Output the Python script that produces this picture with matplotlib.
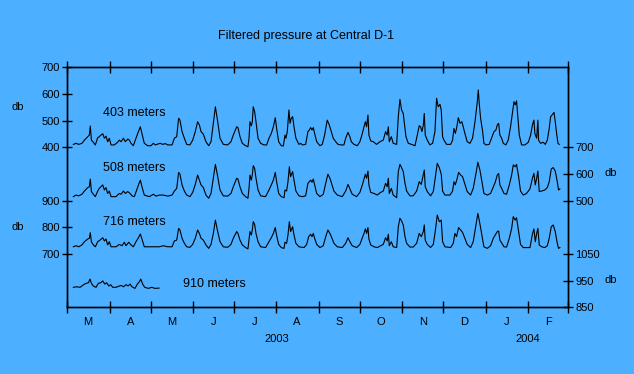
import numpy as np
import pandas as pd
import matplotlib
matplotlib.use('Agg')
import matplotlib.pyplot as plt
import matplotlib.dates as mdates
import matplotlib.transforms as mtransforms

plt.rcParams['font.family'] = ['Liberation Sans', 'DejaVu Sans']

# (days after 1 Mar 2003, pressure in db)
s403 = [(4.4, 411), (6.4, 415), (8.3, 411), (10.7, 415), (12.5, 427), (14.9, 440), (16.1, 446), (16.8, 480),
        (17.6, 427), (19.0, 419), (20.5, 409), (22.2, 436), (23.4, 440), (24.6, 446), (25.9, 451), (27.1, 434),
        (28.3, 442), (29.5, 421), (30.7, 434), (32.0, 409), (34.4, 409), (36.8, 419), (38.0, 427), (39.3, 421),
        (41.0, 434), (42.4, 421), (44.2, 431), (45.4, 427), (46.6, 415), (48.3, 406), (50.2, 434), (52.0, 459),
        (53.4, 477), (54.6, 452), (56.3, 415), (58.8, 406), (61.2, 406), (62.9, 415), (64.4, 409), (66.0, 412),
        (68.0, 415), (69.7, 411), (71.7, 414), (73.4, 409), (76.6, 409), (78.3, 434), (80.0, 440), (81.4, 509),
        (82.4, 502), (83.9, 459), (85.6, 434), (87.3, 411), (89.7, 409), (91.7, 427), (93.6, 459), (95.3, 496),
        (96.6, 484), (97.8, 459), (99.5, 449), (101.4, 421), (103.4, 406), (105.1, 421), (106.8, 490), (108.3, 552),
        (110.0, 496), (111.7, 434), (114.1, 411), (117.3, 409), (119.7, 421), (121.4, 446), (123.9, 477), (124.8, 474),
        (126.3, 440), (128.0, 415), (130.4, 406), (132.1, 402), (132.9, 434), (133.6, 496), (134.6, 481), (135.3, 496),
        (136.0, 552), (137.0, 534), (138.0, 496), (139.5, 434), (141.4, 415), (143.8, 409), (145.8, 409), (147.5, 434),
        (149.2, 452), (150.7, 477), (152.1, 511), (153.1, 471), (154.6, 421), (156.5, 406), (158.0, 405), (159.2, 446),
        (159.9, 434), (160.9, 459), (162.1, 540), (162.9, 490), (163.8, 509), (164.8, 515), (165.8, 477), (167.2, 434),
        (169.4, 411), (170.7, 415), (171.9, 409), (174.3, 411), (176.0, 459), (177.0, 465), (178.0, 474), (179.0, 465),
        (179.9, 474), (180.9, 452), (182.4, 421), (184.8, 406), (186.5, 411), (188.2, 446), (190.1, 502), (191.6, 484),
        (193.1, 459), (194.5, 434), (196.3, 421), (198.0, 411), (200.4, 409), (202.3, 409), (203.6, 434), (205.3, 456),
        (206.7, 440), (207.7, 421), (209.7, 411), (212.1, 406), (214.0, 421), (215.8, 452), (217.0, 477), (218.0, 496),
        (218.9, 477), (219.9, 521), (220.6, 446), (221.9, 424), (223.8, 421), (226.2, 411), (228.7, 421), (231.1, 427),
        (232.8, 459), (234.0, 446), (234.8, 477), (235.5, 421), (237.0, 440), (238.4, 415), (240.9, 411), (242.1, 515),
        (243.3, 580), (244.5, 540), (245.7, 527), (247.0, 471), (247.7, 440), (249.4, 415), (251.8, 411), (254.3, 406),
        (256.0, 446), (257.4, 481), (258.4, 477), (259.4, 459), (260.4, 484), (261.1, 527), (261.8, 446), (263.3, 427),
        (265.2, 409), (267.2, 415), (268.9, 459), (270.1, 584), (271.3, 552), (272.6, 561), (273.5, 540), (274.5, 440),
        (275.5, 427), (277.4, 411), (280.4, 411), (281.8, 427), (282.8, 471), (283.8, 452), (284.7, 471), (286.0, 511),
        (287.2, 490), (288.6, 496), (289.6, 477), (290.8, 452), (292.5, 421), (294.5, 415), (296.4, 434), (298.2, 496),
        (299.9, 571), (300.6, 615), (301.3, 565), (302.3, 509), (303.8, 459), (304.7, 415), (306.2, 409), (308.6, 411),
        (310.3, 434), (312.1, 459), (313.5, 465), (314.5, 484), (315.5, 490), (316.4, 446), (317.7, 434), (318.9, 415),
        (320.8, 409), (322.5, 427), (324.2, 477), (325.7, 534), (326.7, 571), (327.6, 559), (328.6, 574), (329.6, 509),
        (330.6, 446), (332.3, 409), (334.7, 409), (337.2, 419), (338.9, 446), (340.3, 486), (341.3, 502), (342.0, 452),
        (343.3, 434), (344.2, 502), (344.7, 427), (346.2, 415), (348.1, 419), (349.6, 411), (351.1, 427), (352.5, 471),
        (353.5, 515), (355.0, 524), (356.0, 531), (356.9, 496), (357.9, 452), (358.9, 415), (359.8, 411)]

s508 = [(4.4, 515), (6.4, 521), (8.3, 518), (10.7, 524), (12.5, 536), (14.9, 549), (16.1, 552), (16.8, 581),
        (17.6, 534), (19.0, 524), (20.5, 515), (22.2, 536), (23.4, 546), (24.6, 552), (25.9, 559), (27.1, 540),
        (28.3, 549), (29.5, 527), (30.7, 536), (32.0, 515), (35.6, 515), (38.0, 527), (39.3, 524), (41.0, 536),
        (42.4, 527), (44.2, 534), (45.9, 527), (47.3, 518), (49.0, 515), (50.7, 540), (52.2, 561), (53.4, 577),
        (54.6, 552), (56.3, 521), (60.0, 515), (62.9, 524), (64.9, 517), (67.3, 521), (70.2, 521), (73.4, 517),
        (76.6, 521), (78.3, 536), (80.0, 546), (81.4, 606), (82.4, 599), (83.9, 559), (85.6, 536), (87.3, 521),
        (89.7, 515), (91.7, 531), (93.6, 561), (95.3, 596), (96.6, 577), (97.8, 559), (99.5, 549), (101.4, 521),
        (103.4, 509), (105.1, 527), (106.8, 584), (108.3, 636), (110.0, 590), (111.7, 540), (114.1, 518), (117.3, 517),
        (119.7, 527), (121.4, 552), (123.9, 584), (124.8, 581), (126.3, 552), (128.0, 527), (130.4, 515), (132.1, 509),
        (132.9, 546), (133.6, 596), (134.6, 577), (135.3, 596), (136.0, 631), (137.0, 621), (138.0, 584), (139.5, 540),
        (141.4, 518), (145.0, 515), (147.5, 540), (149.2, 559), (150.7, 577), (152.1, 606), (153.1, 571), (154.6, 527),
        (156.5, 515), (158.5, 511), (159.2, 540), (160.4, 536), (161.4, 571), (162.4, 627), (163.3, 590), (164.8, 609),
        (165.8, 577), (167.2, 536), (169.4, 518), (171.9, 515), (174.3, 518), (176.0, 565), (178.0, 577), (179.0, 569),
        (179.9, 581), (180.9, 559), (182.4, 527), (184.8, 515), (187.2, 524), (189.0, 565), (190.6, 599), (192.1, 584),
        (193.6, 559), (195.0, 536), (197.5, 521), (201.1, 515), (203.6, 536), (205.3, 561), (206.7, 544), (208.4, 524),
        (211.6, 515), (214.0, 531), (215.8, 559), (217.0, 581), (218.0, 599), (218.9, 584), (219.9, 611), (220.6, 559),
        (221.9, 531), (224.3, 527), (226.7, 521), (229.2, 531), (231.1, 536), (232.8, 565), (234.0, 552), (234.8, 584),
        (235.5, 527), (237.0, 546), (238.4, 521), (240.9, 511), (242.1, 609), (243.3, 636), (244.5, 624), (245.7, 609),
        (247.0, 565), (248.2, 536), (250.6, 518), (253.0, 518), (255.5, 536), (257.4, 571), (258.9, 561), (259.9, 586),
        (261.1, 615), (261.8, 552), (263.3, 534), (265.7, 518), (267.7, 534), (269.1, 584), (270.6, 640), (272.1, 624),
        (273.5, 599), (274.5, 536), (276.2, 521), (279.9, 521), (281.8, 536), (282.8, 571), (283.8, 559), (285.2, 584),
        (286.2, 606), (287.7, 596), (289.1, 590), (290.6, 565), (292.5, 534), (295.0, 521), (296.9, 546), (298.9, 602),
        (300.3, 644), (301.8, 615), (303.3, 571), (304.7, 527), (307.2, 521), (309.6, 527), (311.6, 552), (313.0, 569),
        (314.5, 596), (315.5, 602), (316.4, 559), (317.9, 544), (319.4, 527), (321.3, 524), (323.3, 559), (325.0, 596),
        (326.2, 634), (327.6, 627), (328.6, 636), (330.1, 590), (331.5, 536), (333.5, 521), (335.9, 527), (338.4, 544),
        (340.3, 586), (341.3, 602), (342.3, 559), (343.3, 584), (344.2, 611), (345.2, 534), (346.9, 536), (349.3, 540),
        (351.1, 549), (352.5, 571), (354.0, 619), (355.4, 624), (356.9, 611), (358.4, 571), (359.3, 540), (360.3, 544)]

s716 = [(4.4, 727), (6.4, 731), (8.3, 727), (10.7, 734), (12.5, 746), (14.9, 756), (16.1, 759), (16.8, 780),
        (17.6, 746), (19.0, 734), (20.5, 727), (22.2, 746), (23.9, 752), (25.9, 761), (27.1, 749), (28.3, 756),
        (29.5, 734), (30.7, 746), (32.0, 727), (35.6, 727), (38.0, 736), (40.0, 731), (41.7, 744), (42.9, 731),
        (44.9, 744), (46.6, 734), (48.3, 727), (50.2, 746), (52.0, 761), (53.4, 775), (54.6, 756), (56.3, 727),
        (67.3, 727), (70.2, 731), (73.4, 727), (76.6, 727), (78.3, 749), (80.0, 752), (81.4, 796), (82.4, 790),
        (83.9, 759), (85.6, 740), (87.3, 727), (89.7, 725), (91.7, 736), (93.6, 759), (95.3, 790), (96.6, 777),
        (97.8, 759), (99.5, 752), (101.4, 734), (103.4, 721), (105.1, 736), (106.8, 777), (108.3, 827), (110.0, 784),
        (111.7, 746), (114.1, 727), (117.3, 725), (119.7, 736), (121.4, 759), (123.9, 784), (124.8, 777), (126.3, 752),
        (128.0, 734), (130.4, 724), (132.1, 719), (132.9, 752), (133.6, 784), (134.6, 771), (135.3, 790), (136.0, 821),
        (137.0, 811), (138.0, 777), (139.5, 746), (141.4, 727), (145.0, 724), (147.5, 746), (149.2, 761), (150.7, 777),
        (152.1, 799), (153.1, 769), (154.6, 736), (156.5, 724), (158.5, 721), (159.2, 744), (160.4, 740), (161.4, 771),
        (162.4, 821), (163.3, 784), (164.8, 802), (165.8, 771), (167.2, 740), (169.4, 727), (173.1, 724), (175.1, 736),
        (176.5, 765), (178.0, 774), (179.0, 765), (179.9, 777), (180.9, 759), (182.4, 736), (184.8, 724), (187.2, 731),
        (189.0, 765), (190.6, 790), (192.1, 777), (193.6, 759), (195.0, 740), (197.5, 727), (201.1, 724), (203.6, 740),
        (205.3, 761), (206.7, 746), (208.4, 731), (211.6, 724), (214.0, 736), (215.8, 761), (217.0, 777), (218.0, 794),
        (218.9, 777), (219.9, 799), (220.6, 756), (221.9, 734), (224.3, 727), (226.7, 724), (229.2, 731), (231.1, 736),
        (232.8, 761), (234.0, 749), (234.8, 774), (235.5, 731), (237.0, 746), (238.4, 727), (240.9, 724), (242.1, 802),
        (243.3, 834), (244.5, 824), (245.7, 809), (247.0, 765), (248.2, 740), (250.6, 726), (253.0, 726), (255.5, 740),
        (257.4, 777), (258.9, 765), (260.4, 784), (261.1, 809), (261.8, 752), (263.3, 736), (265.7, 724), (267.7, 736),
        (269.1, 784), (270.6, 846), (272.1, 821), (273.5, 827), (274.5, 746), (276.2, 727), (280.4, 724), (282.3, 740),
        (283.5, 777), (284.7, 765), (286.2, 799), (287.7, 790), (289.1, 781), (290.6, 761), (292.5, 736), (295.0, 724),
        (296.9, 746), (298.9, 809), (300.3, 852), (301.3, 827), (302.8, 784), (304.7, 727), (307.2, 721), (309.6, 731),
        (311.6, 759), (313.0, 771), (314.5, 784), (315.5, 786), (316.4, 752), (317.9, 740), (319.4, 727), (321.3, 726),
        (323.3, 759), (325.0, 796), (326.2, 840), (327.6, 827), (328.6, 836), (330.1, 784), (331.5, 736), (333.5, 724),
        (338.4, 724), (340.3, 777), (341.3, 794), (342.3, 746), (343.3, 777), (344.2, 796), (345.2, 734), (346.9, 727),
        (349.3, 724), (351.1, 731), (352.5, 759), (354.0, 802), (355.4, 809), (356.9, 784), (358.4, 740), (359.3, 721),
        (360.3, 724)]

s910 = [(4.4, 925), (6.8, 927), (9.3, 925), (11.7, 934), (13.7, 940), (15.4, 942), (16.6, 956), (17.6, 940),
        (19.0, 930), (21.0, 925), (22.7, 940), (24.4, 942), (25.9, 949), (27.4, 937), (28.8, 942), (30.3, 930),
        (31.7, 935), (33.2, 925), (35.6, 925), (38.1, 930), (39.5, 932), (41.0, 927), (43.0, 935), (44.4, 930),
        (45.9, 937), (47.3, 927), (49.5, 921), (51.2, 937), (52.7, 946), (53.7, 956), (55.1, 937), (56.6, 925),
        (59.3, 921), (61.7, 925), (64.1, 921), (67.1, 922)]

series_names = ['403 meters', '508 meters', '716 meters', '910 meters']

start = pd.Timestamp('2003-03-01')
end = pd.Timestamp('2004-03-01')
bg = '#4dafff'

# each series shares the one plotting scale, shifted so its own axis reads correctly
shifts = {'403': 0, '508': -300, '716': -700, '910': -1050}


def to_xy(pairs, shift):
    days = np.array([p[0] for p in pairs])
    vals = np.array([p[1] for p in pairs], dtype=float)
    return start + pd.to_timedelta(days, unit='D'), vals + shift


fig = plt.figure(figsize=(6.34, 3.74), dpi=100, facecolor=bg)
ax = fig.add_axes([0.1062, 0.1783, 0.7892, 0.6417])
ax.set_facecolor(bg)

for key, data in [('403', s403), ('508', s508), ('716', s716), ('910', s910)]:
    x, y = to_xy(data, shifts[key])
    ax.plot(x, y, color='black', lw=0.8)

ax.set_xlim(start, end)
ax.set_ylim(-200, 700)

ax.xaxis.set_major_locator(mdates.MonthLocator())
ax.xaxis.set_major_formatter(plt.NullFormatter())
ax.xaxis.set_minor_locator(mdates.MonthLocator(bymonthday=16))
ax.xaxis.set_minor_formatter(plt.FuncFormatter(
    lambda v, pos: mdates.num2date(v).strftime('%b')[0]))
ax.tick_params(axis='x', which='major', direction='inout', length=8, width=1, top=True)
ax.tick_params(axis='x', which='minor', length=0, pad=7, labelsize=8)

ax.set_yticks([0, 100, 200, 400, 500, 600, 700])
ax.set_yticklabels(['700', '800', '900', '400', '500', '600', '700'])
ax.tick_params(axis='y', direction='inout', length=7, width=1, pad=2, labelsize=8)

ax2 = ax.twinx()
ax2.set_ylim(-200, 700)
ax2.set_yticks([-200, -100, 0, 200, 300, 400])
ax2.set_yticklabels(['850', '950', '1050', '500', '600', '700'])
ax2.tick_params(axis='y', direction='inout', length=7, width=1, pad=2, labelsize=8)

for a in (ax, ax2):
    for sp in a.spines.values():
        sp.set_linewidth(1)
        sp.set_color('black')

trans = mtransforms.blended_transform_factory(ax.transData, ax.transAxes)
ax.text(pd.Timestamp('2003-08-01'), -0.132, '2003', transform=trans, ha='center', va='center', fontsize=8)
ax.text(pd.Timestamp('2004-02-01'), -0.132, '2004', transform=trans, ha='center', va='center', fontsize=8)

fig.text(0.482, 0.904, 'Filtered pressure at Central D-1', ha='center', va='center', fontsize=9)

fig.text(0.162, 0.697, series_names[0], ha='left', va='center', fontsize=9)
fig.text(0.162, 0.550, series_names[1], ha='left', va='center', fontsize=9)
fig.text(0.162, 0.406, series_names[2], ha='left', va='center', fontsize=9)
fig.text(0.288, 0.2406, series_names[3], ha='left', va='center', fontsize=9)

fig.text(0.0284, 0.713, 'db', ha='center', va='center', fontsize=8)
fig.text(0.0284, 0.392, 'db', ha='center', va='center', fontsize=8)
fig.text(0.9637, 0.5366, 'db', ha='center', va='center', fontsize=8)
fig.text(0.9637, 0.2513, 'db', ha='center', va='center', fontsize=8)

fig.savefig('out.png', dpi=100, facecolor=bg)
